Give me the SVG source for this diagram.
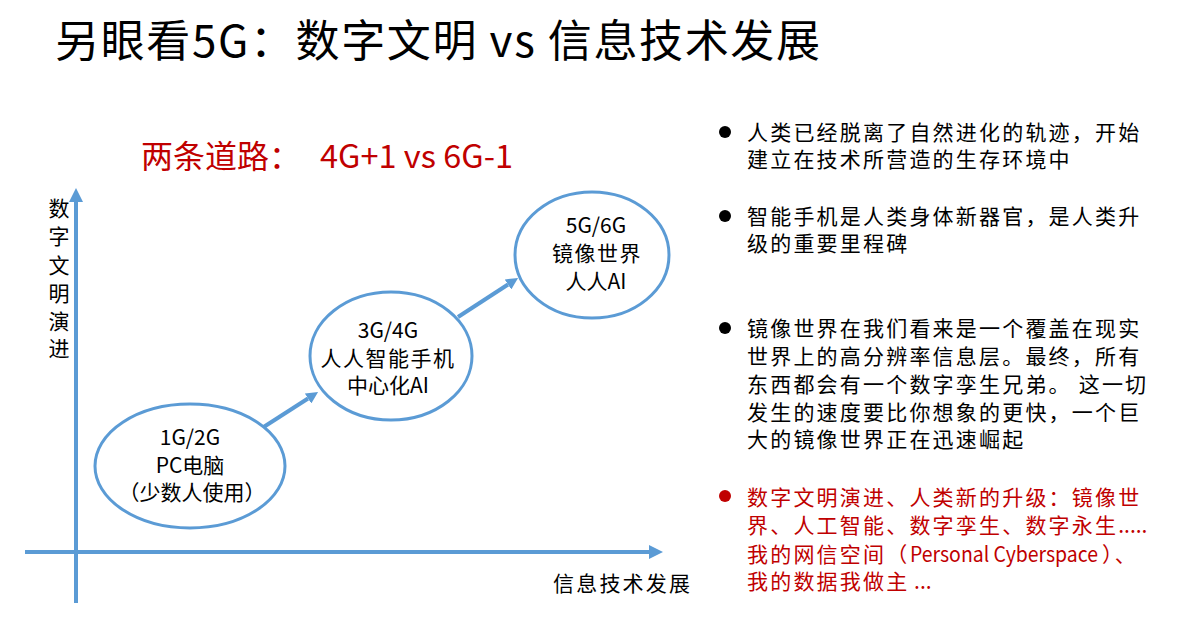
<svg xmlns="http://www.w3.org/2000/svg" width="1188" height="637" viewBox="0 0 1188 637">
<style>
text{font-family:"Noto Sans CJK SC","Liberation Sans",sans-serif;fill:#000}
.title{font-size:44px}
.sub{font-size:32px;fill:#C00000}
.ax{stroke:#5B9BD5;stroke-width:4;fill:none}
.node{fill:#fff;stroke:#5B9BD5;stroke-width:3}
.nt{font-size:21px;text-anchor:middle}
.lab{font-size:21px}
.b{font-size:21px;letter-spacing:2.2px}
.red{fill:#C00000}
.lat{letter-spacing:0}
</style>
<defs>
<marker id="ah" markerUnits="userSpaceOnUse" markerWidth="14" markerHeight="14" refX="0" refY="7" orient="auto" viewBox="0 0 14 14">
<path d="M0,0 L14,7 L0,14 z" fill="#5B9BD5"/>
</marker>
<marker id="ah2" markerUnits="userSpaceOnUse" markerWidth="12" markerHeight="12" refX="0" refY="6" orient="auto" viewBox="0 0 12 12">
<path d="M0,0 L12,6 L0,12 z" fill="#5B9BD5"/>
</marker>
</defs>
<rect width="1188" height="637" fill="#fff"/>
<text class="title" x="55" y="57" textLength="765" lengthAdjust="spacing">另眼看5G：数字文明 vs 信息技术发展</text>
<text class="sub" x="141" y="168">两条道路：</text>
<text class="sub" x="320" y="168" textLength="193" lengthAdjust="spacingAndGlyphs">4G+1 vs 6G-1</text>

<g id="axes">
<line class="ax" x1="76" y1="603" x2="76" y2="202" marker-end="url(#ah)"/>
<line class="ax" x1="25" y1="552" x2="649" y2="552" marker-end="url(#ah)"/>
<text class="lab" text-anchor="middle"><tspan x="59" y="216">数</tspan><tspan x="59" y="244">字</tspan><tspan x="59" y="273">文</tspan><tspan x="59" y="301">明</tspan><tspan x="59" y="329">演</tspan><tspan x="59" y="356">进</tspan></text>
<text class="lab" x="553" y="591" textLength="137">信息技术发展</text>
</g>

<g id="connectors">
<line class="ax" x1="259" y1="430" x2="308" y2="398.5" marker-end="url(#ah2)"/>
<line class="ax" x1="458" y1="317" x2="508" y2="284.5" marker-end="url(#ah2)"/>
</g>

<g id="n1">
<ellipse class="node" cx="190" cy="466" rx="95" ry="62"/>
<text class="nt"><tspan x="190" y="445">1G/2G</tspan><tspan x="190" y="473">PC电脑</tspan><tspan x="192" y="500">（少数人使用）</tspan></text>
</g>
<g id="n2">
<ellipse class="node" cx="391" cy="356" rx="81" ry="64"/>
<text class="nt"><tspan x="388" y="338">3G/4G</tspan><tspan x="388" y="366" style="letter-spacing:1.5px">人人智能手机</tspan><tspan x="388" y="393">中心化AI</tspan></text>
</g>
<g id="n3">
<ellipse class="node" cx="592" cy="255" rx="77" ry="63"/>
<text class="nt"><tspan x="596" y="233">5G/6G</tspan><tspan x="597" y="261" style="letter-spacing:1.5px">镜像世界</tspan><tspan x="596" y="289">人人AI</tspan></text>
</g>

<g id="bullets">
<circle cx="725" cy="132" r="6" fill="#000"/>
<text class="b" x="747" y="140">人类已经脱离了自然进化的轨迹，开始</text>
<text class="b" x="747" y="167">建立在技术所营造的生存环境中</text>

<circle cx="725" cy="216" r="6" fill="#000"/>
<text class="b" x="747" y="224">智能手机是人类身体新器官，是人类升</text>
<text class="b" x="747" y="251">级的重要里程碑</text>

<circle cx="725" cy="328" r="6" fill="#000"/>
<text class="b" x="747" y="336">镜像世界在我们看来是一个覆盖在现实</text>
<text class="b" x="747" y="364">世界上的高分辨率信息层。最终，所有</text>
<text class="b" x="747" y="392">东西都会有一个数字孪生兄弟。 这一切</text>
<text class="b" x="747" y="420">发生的速度要比你想象的更快，一个巨</text>
<text class="b" x="747" y="447">大的镜像世界正在迅速崛起</text>

<circle cx="725" cy="496" r="6" fill="#C00000"/>
<text class="b red" x="747" y="505">数字文明演进、人类新的升级：镜像世</text>
<text class="b red" x="747" y="533">界、人工智能、数字孪生、数字永生<tspan class="lat">.....</tspan></text>
<text class="b red" x="747" y="562">我的网信空间（<tspan class="lat" x="910" textLength="188" lengthAdjust="spacingAndGlyphs">Personal Cyberspace</tspan><tspan x="1102">）、</tspan></text>
<text class="b red" x="747" y="589">我的数据我做主<tspan class="lat"> ...</tspan></text>
</g>
</svg>
